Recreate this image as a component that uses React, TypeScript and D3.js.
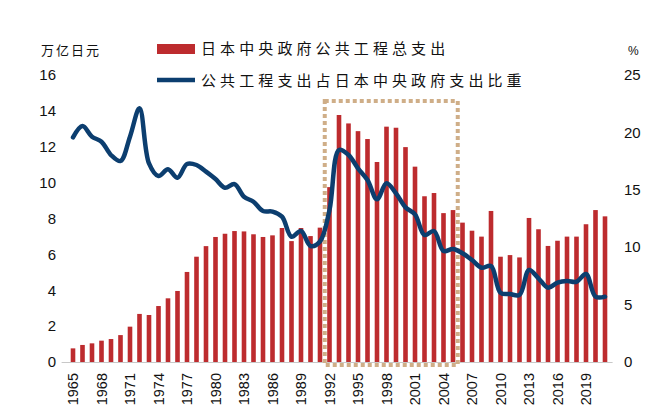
import React, { useEffect, useRef } from "react";
import * as d3 from "d3";

// 年份
const years: number[] = d3.range(1965, 2022);

// 日本中央政府公共工程总支出（万亿日元）
const spending: number[] = [
  0.76, 0.95, 1.04, 1.19, 1.28, 1.5, 1.97, 2.68, 2.62, 3.12,
  3.55, 3.96, 5.02, 5.87, 6.46, 6.97, 7.15, 7.3, 7.28, 7.12,
  6.97, 7.06, 7.47, 6.74, 7.47, 7.02, 7.49, 9.75, 13.77, 13.3,
  12.87, 12.43, 11.15, 13.12, 13.06, 11.98, 10.89, 9.24, 9.42, 8.3,
  8.47, 7.77, 7.32, 6.99, 8.42, 5.87, 5.96, 5.83, 8.03, 7.4,
  6.47, 6.76, 6.99, 6.99, 7.68, 8.47, 8.12,
];

// 公共工程支出占日本中央政府支出比重（%）
const share: number[] = [
  19.57, 20.56, 19.63, 19.19, 18.03, 17.51, 19.63, 22.1, 17.3, 16.2,
  16.79, 16.05, 17.25, 17.16, 16.58, 15.94, 15.18, 15.5, 14.4, 13.96,
  13.15, 13.1, 12.66, 10.91, 11.41, 10.1, 10.5, 13.24, 18.47, 18.03,
  16.87, 15.85, 14.17, 15.57, 14.69, 13.47, 12.86, 11.06, 11.41, 9.67,
  9.84, 9.47, 8.88, 8.21, 8.36, 6.04, 5.92, 5.84, 8.01, 7.29,
  6.47, 6.91, 7.06, 6.99, 7.67, 5.69, 5.69,
];

const leftTicks = [0, 2, 4, 6, 8, 10, 12, 14, 16];
const rightTicks = [0, 5, 10, 15, 20, 25];
const tickYears = years.filter((y) => (y - 1965) % 3 === 0);
const highlight = { from: 1992, to: 2005, top: 14.55 };

const seriesNames = ["日本中央政府公共工程总支出", "公共工程支出占日本中央政府支出比重"];

const W = 649;
const H = 418;
const BAR_COLOR = "#bd2b2e";
const LINE_COLOR = "#0c3e6f";
const NUM_FONT = "'Liberation Sans', Arial, sans-serif";
const CJK_FONT = "'Noto Sans CJK SC', sans-serif";

const App = () => {
  const ref = useRef<SVGSVGElement>(null);

  useEffect(() => {
    const svg = d3.select(ref.current);
    svg.selectAll("*").remove();

    const x = d3.scalePoint<number>().domain(years).range([73, 605]);
    const step = x.step();
    const yL = d3.scaleLinear().domain([0, 16]).range([362, 75]);
    const yR = d3.scaleLinear().domain([0, 25]).range([362, 75]);

    svg.append("rect").attr("width", W).attr("height", H).attr("fill", "#fff");

    // bars
    const barW = 4.6;
    svg
      .append("g")
      .selectAll("rect")
      .data(years)
      .join("rect")
      .attr("x", (d) => x(d)! - barW / 2)
      .attr("y", (d, i) => yL(spending[i]))
      .attr("width", barW)
      .attr("height", (d, i) => yL(0) - yL(spending[i]))
      .attr("fill", BAR_COLOR);

    // baseline
    svg
      .append("line")
      .attr("x1", x(1965)! - step * 1.2)
      .attr("x2", x(2021)! + step * 0.8)
      .attr("y1", yL(0) + 0.5)
      .attr("y2", yL(0) + 0.5)
      .attr("stroke", "#c8c8c8")
      .attr("stroke-width", 1);

    // dotted highlight box
    const hx0 = x(highlight.from)! - step / 2;
    const hx1 = x(highlight.to)! + step / 2;
    svg
      .append("rect")
      .attr("x", hx0)
      .attr("y", yL(highlight.top))
      .attr("width", hx1 - hx0)
      .attr("height", yL(0) + 3 - yL(highlight.top))
      .attr("fill", "none")
      .attr("stroke", "#cfae88")
      .attr("stroke-width", 4)
      .attr("stroke-dasharray", "4 3");

    // share line
    const line = d3
      .line<number>()
      .x((d, i) => x(years[i])!)
      .y((d) => yR(d))
      .curve(d3.curveCatmullRom.alpha(0.5));
    svg
      .append("path")
      .datum(share)
      .attr("d", line)
      .attr("fill", "none")
      .attr("stroke", LINE_COLOR)
      .attr("stroke-width", 4.5)
      .attr("stroke-linejoin", "round")
      .attr("stroke-linecap", "round");

    // left axis labels
    svg
      .append("g")
      .selectAll("text")
      .data(leftTicks)
      .join("text")
      .attr("x", 56)
      .attr("y", (d) => yL(d))
      .attr("dy", "0.35em")
      .attr("text-anchor", "end")
      .attr("font-family", NUM_FONT)
      .attr("font-size", 15)
      .attr("fill", "#111")
      .text((d) => d);

    // right axis labels
    svg
      .append("g")
      .selectAll("text")
      .data(rightTicks)
      .join("text")
      .attr("x", 624)
      .attr("y", (d) => yR(d))
      .attr("dy", "0.35em")
      .attr("text-anchor", "start")
      .attr("font-family", NUM_FONT)
      .attr("font-size", 15)
      .attr("fill", "#111")
      .text((d) => d);

    // x labels
    svg
      .append("g")
      .selectAll("text")
      .data(tickYears)
      .join("text")
      .attr("transform", (d) => `translate(${x(d)! + 5},373) rotate(-90)`)
      .attr("text-anchor", "end")
      .attr("font-family", NUM_FONT)
      .attr("font-size", 14.5)
      .attr("fill", "#111")
      .text((d) => d);

    // units
    svg
      .append("text")
      .attr("x", 41)
      .attr("y", 55)
      .attr("font-family", CJK_FONT)
      .attr("font-size", 13)
      .attr("letter-spacing", 2)
      .attr("fill", "#111")
      .text("万亿日元");
    svg
      .append("text")
      .attr("x", 628)
      .attr("y", 55)
      .attr("font-family", NUM_FONT)
      .attr("font-size", 12)
      .attr("fill", "#111")
      .text("%");

    // legend
    const lg = svg.append("g");
    lg.append("rect")
      .attr("x", 157)
      .attr("y", 44)
      .attr("width", 38)
      .attr("height", 10)
      .attr("fill", BAR_COLOR);
    lg.append("line")
      .attr("x1", 157)
      .attr("x2", 195)
      .attr("y1", 80)
      .attr("y2", 80)
      .attr("stroke", LINE_COLOR)
      .attr("stroke-width", 4.5);
    lg.selectAll("text")
      .data(seriesNames)
      .join("text")
      .attr("x", 201)
      .attr("y", (d, i) => (i === 0 ? 49 : 81))
      .attr("dy", "0.36em")
      .attr("font-family", CJK_FONT)
      .attr("font-size", 15)
      .attr("letter-spacing", 4.1)
      .attr("fill", "#111")
      .text((d) => d);
  }, []);

  return (
    <svg
      ref={ref}
      width={W}
      height={H}
      style={{ position: "absolute", left: 0, top: 0, display: "block" }}
    />
  );
};

export default App;
